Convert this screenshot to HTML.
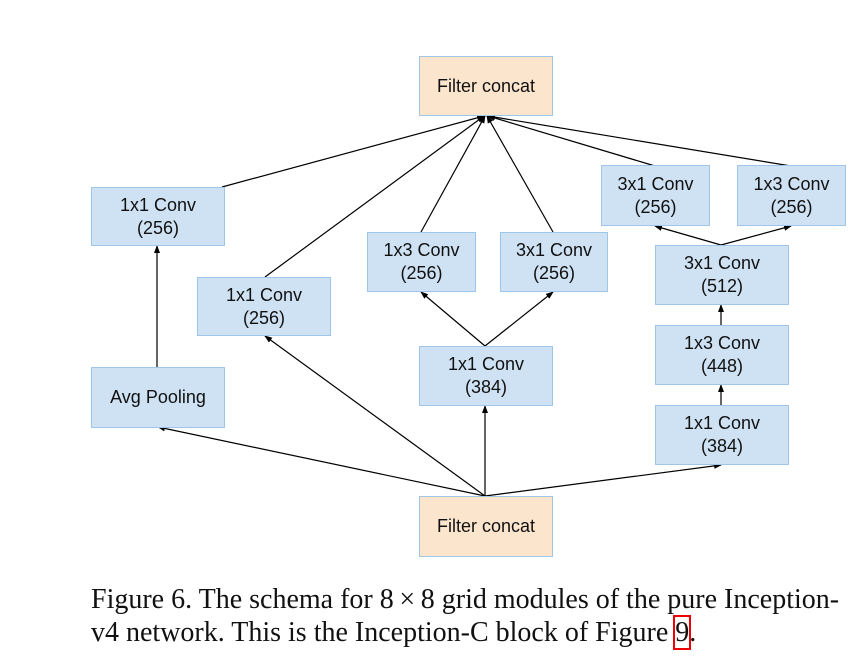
<!DOCTYPE html>
<html><head><style>
body{margin:0;background:#fff;width:864px;height:667px;position:relative;overflow:hidden;font-family:"Liberation Sans",sans-serif}
.b{position:absolute;background:#cfe2f3;border:1px solid #9fc5e8;box-sizing:border-box;display:flex;align-items:center;justify-content:center;text-align:center;font-size:18px;line-height:23px;color:#111}
.o{background:#fce5cd}
.cap{position:absolute;left:91px;font-family:"Liberation Serif",serif;font-size:28px;line-height:33px;color:#111;white-space:nowrap}
</style></head><body>
<svg width="864" height="667" style="position:absolute;left:0;top:0">
<defs><marker id="a" markerWidth="8" markerHeight="8" refX="7" refY="4" orient="auto" markerUnits="userSpaceOnUse"><path d="M0,1 L8,4 L0,7z" fill="#000"/></marker></defs>
<g stroke="#000" stroke-width="1.2" fill="none" marker-end="url(#a)">
<line x1="222" y1="187" x2="484" y2="116"/>
<line x1="265" y1="277" x2="484" y2="116"/>
<line x1="421" y1="232" x2="485" y2="116"/>
<line x1="553" y1="232" x2="487" y2="116"/>
<line x1="655" y1="166" x2="488" y2="116"/>
<line x1="791" y1="166" x2="488" y2="116"/>
<line x1="157" y1="367" x2="157" y2="246"/>
<line x1="485" y1="496" x2="158" y2="427"/>
<line x1="485" y1="496" x2="265" y2="336"/>
<line x1="485" y1="496" x2="485" y2="406"/>
<line x1="485" y1="496" x2="721" y2="465"/>
<line x1="485" y1="346" x2="421" y2="292"/>
<line x1="485" y1="346" x2="553" y2="292"/>
<line x1="721" y1="405" x2="721" y2="385"/>
<line x1="721" y1="325" x2="721" y2="305"/>
<line x1="721" y1="245" x2="655" y2="226"/>
<line x1="721" y1="245" x2="791" y2="226"/>
</g></svg>
<div class="b o" style="left:419px;top:56px;width:134px;height:60px">Filter concat</div>
<div class="b" style="left:91px;top:187px;width:134px;height:59px">1x1 Conv<br>(256)</div>
<div class="b" style="left:197px;top:277px;width:134px;height:59px">1x1 Conv<br>(256)</div>
<div class="b" style="left:367px;top:232px;width:109px;height:60px">1x3 Conv<br>(256)</div>
<div class="b" style="left:500px;top:232px;width:108px;height:60px">3x1 Conv<br>(256)</div>
<div class="b" style="left:419px;top:346px;width:134px;height:60px">1x1 Conv<br>(384)</div>
<div class="b" style="left:601px;top:165px;width:109px;height:61px">3x1 Conv<br>(256)</div>
<div class="b" style="left:737px;top:165px;width:109px;height:61px">1x3 Conv<br>(256)</div>
<div class="b" style="left:655px;top:245px;width:134px;height:60px">3x1 Conv<br>(512)</div>
<div class="b" style="left:655px;top:325px;width:134px;height:60px">1x3 Conv<br>(448)</div>
<div class="b" style="left:655px;top:405px;width:134px;height:60px">1x1 Conv<br>(384)</div>
<div class="b" style="left:91px;top:367px;width:134px;height:61px">Avg Pooling</div>
<div class="b o" style="left:419px;top:496px;width:134px;height:61px">Filter concat</div>
<div class="cap" style="top:583px">Figure 6. The schema for 8&thinsp;×&thinsp;8 grid modules of the pure Inception-</div>
<div class="cap" style="top:616px">v4 network. This is the Inception-C block of Figure <span style="outline:2px solid #e00;outline-offset:0">9</span>.</div>
</body></html>
